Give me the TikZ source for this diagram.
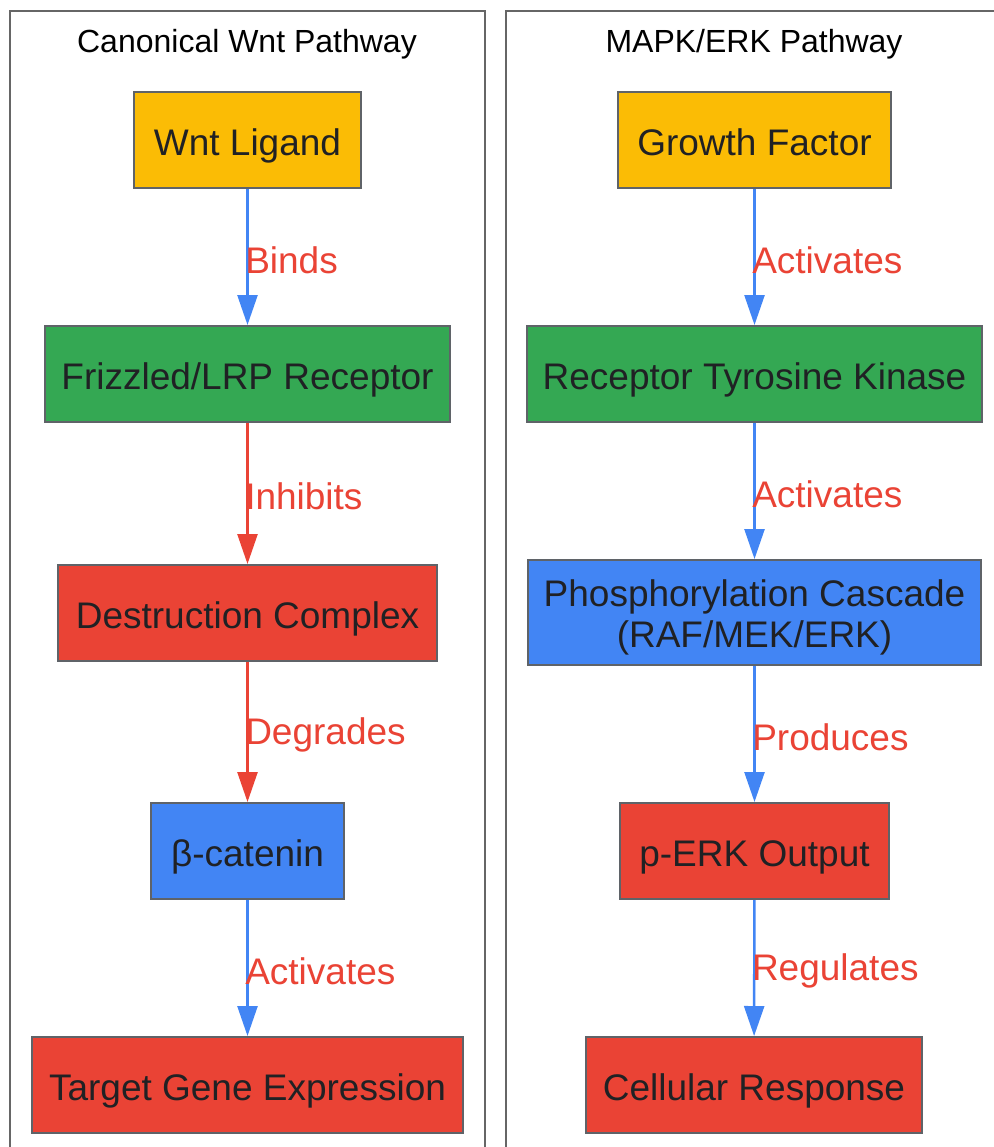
\documentclass[tikz,border=0pt]{standalone}
\usepackage{fontspec}
\setmainfont{Liberation Sans}
\usetikzlibrary{arrows.meta}
\definecolor{gyellow}{HTML}{FBBC05}
\definecolor{ggreen}{HTML}{34A853}
\definecolor{gred}{HTML}{EA4335}
\definecolor{gblue}{HTML}{4285F4}
\definecolor{gborder}{HTML}{5F6368}
\definecolor{gtext}{HTML}{202124}
\definecolor{cborder}{HTML}{666666}
\tikzset{
  box/.style={draw=gborder, line width=2pt, minimum height=96pt, inner sep=0pt,
    text=gtext, font=\fontsize{37}{41}\selectfont, align=center},
  oneline/.style={text height=35pt, text depth=4pt},
  boxtext/.style={inner sep=0pt, text=gtext, font=\fontsize{37}{41}\selectfont, align=center},
  cluster/.style={draw=cborder, line width=2pt},
  ctitle/.style={text=black, font=\fontsize{32}{38}\selectfont, inner sep=0pt},
  conn/.style={line width=2.5pt, -{Triangle[length=30pt,width=20pt]}},
  elabel/.style={anchor=west, inner sep=0pt, xshift=-3.5pt, yshift=-3pt, text=gred, font=\fontsize{37}{41}\selectfont}
}
\begin{document}
\begin{tikzpicture}[x=1pt,y=-1pt]
\useasboundingbox (0,0) rectangle (993,1147);
\fill[white] (0,0) rectangle (993,1147);
% clusters
\draw[cluster] (10,11) rectangle (485,1160);
\draw[cluster] (506,11) rectangle (1010,1160);
\node[ctitle] (t1) at (247,44) {Canonical Wnt Pathway};
\node[ctitle] (t2) at (754,44) {MAPK/ERK Pathway};
% left nodes
\node[box, oneline, fill=gyellow, minimum width=227pt] (wnt) at (247.5,140) {Wnt Ligand};
\node[box, oneline, fill=ggreen, minimum width=405pt] (fz) at (247.5,374) {Frizzled/LRP Receptor};
\node[box, oneline, fill=gred, minimum width=379pt] (dc) at (247.5,613) {Destruction Complex};
\node[box, oneline, fill=gblue, minimum width=193pt] (bc) at (247.5,851) {β-catenin};
\node[box, oneline, fill=gred, minimum width=431pt] (tg) at (247.5,1085) {Target Gene Expression};
% right nodes
\node[box, oneline, fill=gyellow, minimum width=273pt] (gf) at (754.5,140) {Growth Factor};
\node[box, oneline, fill=ggreen, minimum width=455pt] (rtk) at (754.5,374) {Receptor Tyrosine Kinase};
\node[box, fill=gblue, minimum width=453pt, minimum height=105pt] (pc) at (754.5,612.5) {};
\node[boxtext] (pctext) at (754.5,617) {Phosphorylation Cascade\\(RAF/MEK/ERK)};
\node[box, oneline, fill=gred, minimum width=269pt] (perk) at (754.5,851) {p-ERK Output};
\node[box, oneline, fill=gred, minimum width=336pt] (cr) at (754,1085) {Cellular Response};
% left edges
\draw[conn, gblue] (wnt) -- node[elabel] {Binds} (fz);
\draw[conn, gred] (fz) -- node[elabel] {Inhibits} (dc);
\draw[conn, gred] (dc) -- node[elabel] {Degrades} (bc);
\draw[conn, gblue] (bc) -- node[elabel] {Activates} (tg);
% right edges
\draw[conn, gblue] (gf) -- node[elabel] {Activates} (rtk);
\draw[conn, gblue] (rtk) -- node[elabel] {Activates} (pc);
\draw[conn, gblue] (pc) -- node[elabel] {Produces} (perk);
\draw[conn, gblue] (perk) -- node[elabel] {Regulates} (cr);
\end{tikzpicture}
\end{document}
